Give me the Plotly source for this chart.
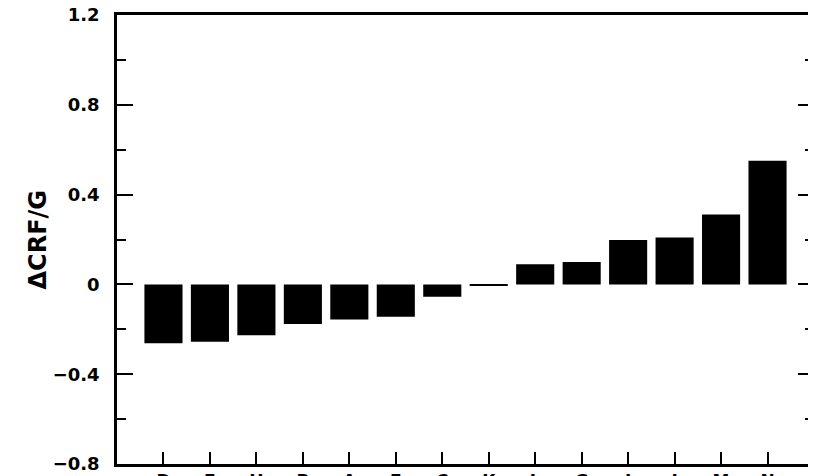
import plotly.graph_objects as go

categories = ["D", "F", "H", "B", "A", "E", "C", "K", "L", "G", "I", "J", "M", "N"]
values = [-0.262, -0.256, -0.227, -0.176, -0.156, -0.144, -0.055, -0.006,
          0.090, 0.100, 0.198, 0.209, 0.311, 0.551]
y_title = "ΔCRF/G"

# page body has an 8px default margin, so the figure is sized to fit the window
OFF = 8
W, H = 816 - OFF, 476 - OFF
L, R, T, B = 117 - OFF, 2, 15 - OFF, 12
PW = W - L - R

fig = go.Figure()
fig.add_trace(go.Bar(
    x=categories, y=values,
    marker=dict(color="black", line=dict(width=0)),
    width=0.82,
))

fig.update_layout(
    width=W, height=H,
    margin=dict(l=L, r=R, t=T, b=B, autoexpand=False),
    paper_bgcolor="white", plot_bgcolor="white",
    showlegend=False,
    font=dict(family="DejaVu Sans", color="black"),
)

fig.update_xaxes(
    type="category",
    range=[-1, len(categories)],
    automargin=False,
    showgrid=False, zeroline=False,
    showline=True, linecolor="black", linewidth=2.5, mirror=True,
    ticks="inside", ticklen=12, tickwidth=2, tickcolor="black",
    tickfont=dict(family="DejaVu Sans", size=17, color="black", weight="bold"),
    ticklabelstandoff=0,
    ticklabeloverflow="allow",
)

fig.update_yaxes(
    range=[-0.8, 1.2],
    tickmode="linear", tick0=-0.8, dtick=0.4,
    automargin=False,
    showgrid=False, zeroline=False,
    showline=True, linecolor="black", linewidth=2.5, mirror="allticks",
    ticks="inside", ticklen=16, tickwidth=2, tickcolor="black",
    minor=dict(dtick=0.2, ticks="inside", ticklen=9, tickwidth=2, tickcolor="black", showgrid=False),
    tickfont=dict(family="DejaVu Sans", size=18, color="black", weight="bold"),
    ticklabelstandoff=11,
    ticklabeloverflow="allow",
)

fig.add_annotation(
    text=y_title, textangle=-90,
    xref="paper", yref="paper",
    x=(37 - 117) / PW, y=0.5,
    xanchor="center", yanchor="middle",
    showarrow=False,
    font=dict(family="DejaVu Sans", size=24, color="black", weight="bold"),
)

fig.write_html("out.html")
